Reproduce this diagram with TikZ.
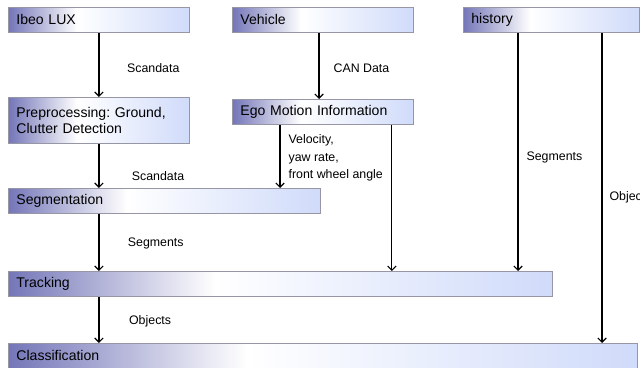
\documentclass[tikz,border=0pt]{standalone}
\usepackage{fontspec}
\setmainfont{Liberation Sans}
\usepackage{tikz}
\usetikzlibrary{arrows.meta}

\definecolor{boxdark}{RGB}{116,118,184}
\definecolor{boxlight}{RGB}{208,219,250}
\definecolor{boxline}{RGB}{150,150,165}
\pgfdeclarehorizontalshading{boxshade}{100bp}{color(0bp)=(boxdark); color(25bp)=(boxdark); color(44bp)=(white); color(75bp)=(boxlight); color(100bp)=(boxlight)}

\begin{document}
\frenchspacing
\begin{tikzpicture}[>={Straight Barb[length=3pt,width=6pt]}, x=0.025cm, y=-0.025cm]
    \tikzstyle{blockbox} = [draw=boxline, line width=0.6pt, shading=boxshade,
	anchor=north west, inner xsep=0.2cm, inner ysep=0pt, align=left,
	minimum height=0.625cm, font=\fontsize{10}{12}\selectfont]
    \tikzstyle{lbl} = [inner sep=0pt, anchor=west, align=left,
	font=\fontsize{8.8}{12.4}\selectfont]
    \tikzstyle{flow} = [->, line width=0.8pt]
	\useasboundingbox (0,0) rectangle (640,368);
	% boxes
	\path
		node[blockbox, text width=4.125cm] (ibeo) at (8,7) {Ibeo LUX}
		node[blockbox, text width=4.125cm] (vehicle) at (232,7) {Vehicle}
		node[blockbox, text width=4.0cm] (history) at (463,7) {history}
		node[blockbox, text width=4.125cm, minimum height=1.15cm] (prep) at (8,97)
			{Preprocessing: Ground,\\Clutter Detection}
		node[blockbox, text width=4.125cm] (ego) at (232,99) {Ego Motion Information}
		node[blockbox, text width=7.4cm] (seg) at (8,188) {Segmentation}
		node[blockbox, text width=13.2cm] (track) at (8,271) {Tracking}
		node[blockbox, text width=15.325cm] (class) at (8,343) {Classification};
	% left column
	\draw[flow] (ibeo.south) -- node[lbl, pos=0.554, right=0.69cm] {Scandata} (prep.north);
	\draw[flow] (prep.south) -- node[lbl, pos=0.727, right=0.81cm] {Scandata} (prep.south |- seg.north);
	\draw[flow] (prep.south |- seg.south) -- node[lbl, pos=0.517, right=0.71cm] {Segments} (prep.south |- track.north);
	\draw[flow] (prep.south |- track.south) -- node[lbl, pos=0.53, right=0.74cm] {Objects} (prep.south |- class.north);
	% vehicle and ego motion
	\draw[flow] ([xshift=2.175cm]vehicle.south west) coordinate (can)
		-- node[lbl, pos=0.537, right=0.35cm] {CAN Data} (can |- ego.north);
	\draw[flow] ([xshift=1.2cm]ego.south west) coordinate (vel)
		-- node[lbl, pos=0.523, right=0.2cm] {Velocity,\\yaw rate,\\front wheel angle} (vel |- seg.north);
	\draw[flow] ([xshift=-0.55cm]ego.south east) coordinate (egoout) -- (egoout |- track.north);
	% history
	\draw[flow] ([xshift=1.375cm]history.south west) coordinate (hseg)
		-- node[lbl, pos=0.523, right=0.2cm] {Segments} (hseg |- track.north);
	\draw[flow] ([xshift=3.475cm]history.south west) coordinate (hobj)
		-- node[lbl, pos=0.53, right=0.175cm] {Objects} (hobj |- class.north);
\end{tikzpicture}
\end{document}
